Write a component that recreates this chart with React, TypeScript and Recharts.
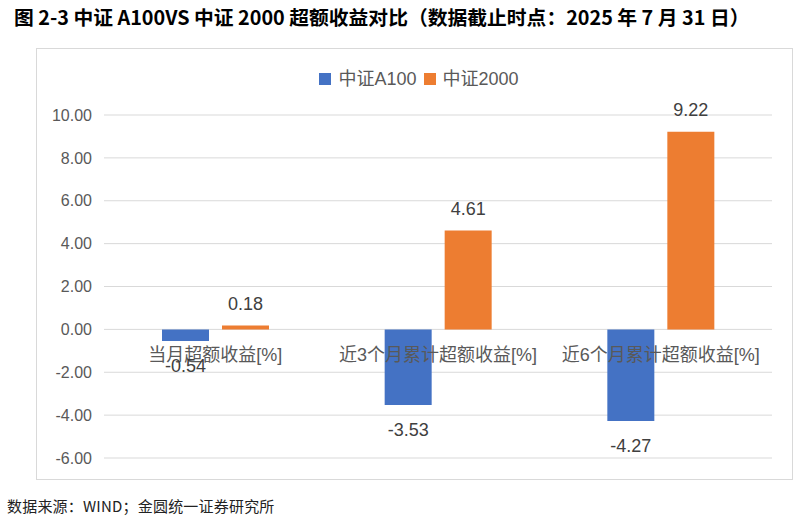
import { BarChart, Bar, XAxis, YAxis, CartesianGrid, LabelList } from "recharts";

const categories = ["当月超额收益[%]", "近3个月累计超额收益[%]", "近6个月累计超额收益[%]"];
const a100 = [-0.54, -3.53, -4.27];
const csi2000 = [0.18, 4.61, 9.22];
const yTicks = [-6, -4, -2, 0, 2, 4, 6, 8, 10];

const data = categories.map((c, i) => ({ name: c, a100: a100[i], csi2000: csi2000[i] }));

const W = 757;
const H = 432;
const XH = 2;
const M = { top: 67, right: 21, bottom: 22 - XH, left: 8 };
const DOMAIN: [number, number] = [-6, 10];
const plotH = H - M.top - M.bottom - XH;
// distance from plot bottom up to the zero line
const zeroUp = (plotH * (0 - DOMAIN[0])) / (DOMAIN[1] - DOMAIN[0]);

const FONT = '"Liberation Sans", "Noto Sans CJK SC", sans-serif';

const CatTick = (props: any) => {
  const { x, y, payload } = props;
  return (
    <text x={x} y={y - zeroUp + 24} textAnchor="middle" fill="#595959" fontSize={18} fontFamily={FONT}>
      {payload.value}
    </text>
  );
};

export default function App() {
  return (
    <div style={{ position: "absolute", left: 0, top: 0, width: 802, height: 519, background: "#fff" }}>
      <div style={{ position: "absolute", left: 14, top: 4, fontSize: 19.8, fontWeight: 700, fontFamily: '"Noto Sans CJK SC", sans-serif', color: "#000", lineHeight: "26px", whiteSpace: "nowrap" }}>
        图 2-3 中证 A100VS 中证 2000 超额收益对比（数据截止时点：2025 年 7 月 31 日）
      </div>
      <div style={{ position: "absolute", left: 36, top: 48, width: W - 2, height: H - 2, border: "1px solid #d9d9d9" }} />
      <div style={{ position: "absolute", left: 36, top: 48 }}>
        <BarChart width={W} height={H} data={data} margin={M} barSize={47} barGap={13}>
          <CartesianGrid vertical={false} stroke="#d9d9d9" />
          <XAxis dataKey="name" axisLine={false} tickLine={false} height={XH} tick={<CatTick />} interval={0} />
          <YAxis
            domain={DOMAIN}
            ticks={yTicks}
            width={60}
            axisLine={false}
            tickLine={false}
            tickSize={0}
            tickMargin={12}
            tickFormatter={(v: number) => v.toFixed(2)}
            tick={{ fill: "#595959", fontSize: 16, fontFamily: FONT }}
          />
          <Bar dataKey="a100" name="中证A100" fill="#4472C4" isAnimationActive={false}>
            <LabelList dataKey="a100" position="top" offset={18} fill="#404040" fontSize={18} fontFamily={FONT} formatter={(v: any) => Number(v).toFixed(2)} />
          </Bar>
          <Bar dataKey="csi2000" name="中证2000" fill="#ED7D31" isAnimationActive={false}>
            <LabelList dataKey="csi2000" position="top" offset={16} fill="#404040" fontSize={18} fontFamily={FONT} formatter={(v: any) => Number(v).toFixed(2)} />
          </Bar>
        </BarChart>
      </div>
      <div style={{ position: "absolute", left: 0, top: 68, width: 838, display: "flex", justifyContent: "center", alignItems: "center", fontSize: 18, color: "#595959", fontFamily: FONT, lineHeight: "22px" }}>
        <span style={{ width: 12, height: 12, background: "#4472C4", display: "inline-block", marginRight: 7 }} />
        <span style={{ marginRight: 7 }}>中证A100</span>
        <span style={{ width: 12, height: 12, background: "#ED7D31", display: "inline-block", marginRight: 7 }} />
        <span>中证2000</span>
      </div>
      <div style={{ position: "absolute", left: 7, top: 496, fontSize: 15, letterSpacing: 0.2, fontFamily: '"Noto Sans CJK SC", serif', color: "#222", lineHeight: "20px", whiteSpace: "nowrap" }}>
        数据来源：WIND；金圆统一证券研究所
      </div>
    </div>
  );
}
